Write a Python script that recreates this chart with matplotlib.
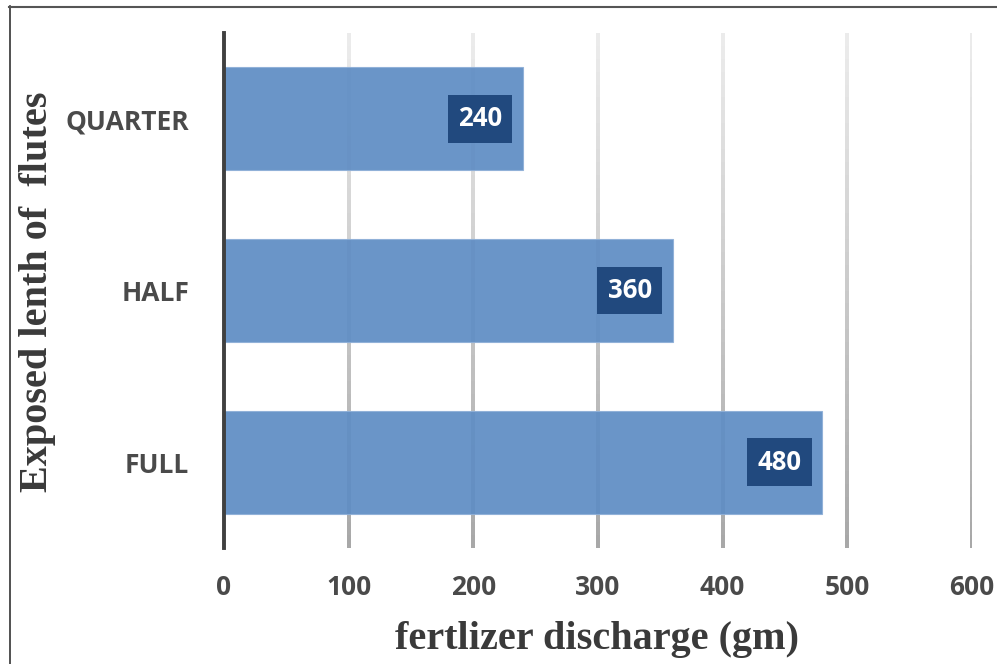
import matplotlib
matplotlib.use("Agg")
import matplotlib.pyplot as plt
import numpy as np
from matplotlib.collections import LineCollection
from matplotlib.lines import Line2D

categories = ["FULL", "HALF", "QUARTER"]
values = [480, 360, 240]
xticks = [0, 100, 200, 300, 400, 500, 600]
xlabel = "fertlizer discharge (gm)"
ylabel = "Exposed lenth of  flutes"

fig = plt.figure(figsize=(9.97, 6.64), dpi=100)
ax = fig.add_axes([224/997, 1-548/664, (972-224)/997, (548-33)/664])

ax.set_xlim(0, 600)
ax.set_ylim(-0.5, 2.5)

# gradient gridlines
N = 40
segs, cols = [], []
y0, y1 = -0.5, 2.5
ys = np.linspace(y0, y1, N + 1)
for t in xticks[1:]:
    for i in range(N):
        segs.append([(t, ys[i]), (t, ys[i + 1])])
        frac = i / N  # 0 at bottom, 1 at top
        g = 0.66 + (0.93 - 0.66) * frac
        cols.append((g, g, g))
lc = LineCollection(segs, colors=cols, linewidths=1.45, zorder=1, capstyle="butt",
                    antialiaseds=False)
ax.add_collection(lc)

ypos = np.arange(len(categories))
ax.barh(ypos, values, height=0.6, color="#5F8DC4", alpha=0.93,
        edgecolor="#8fb0d8", linewidth=0.8, zorder=2)

for y, v in zip(ypos, values):
    ax.annotate(str(v), xy=(v, y), xytext=(-21, 0), textcoords="offset pixels",
                ha="right", va="center", color="white", fontsize=18.5,
                fontfamily="Open Sans", fontweight="bold", zorder=4,
                bbox=dict(boxstyle="square,pad=0.4", fc="#21497E", ec="none"))

for s in ["top", "right", "bottom"]:
    ax.spines[s].set_visible(False)
ax.spines["left"].set_color("#404040")
ax.spines["left"].set_linewidth(2.8)
ax.spines["left"].set_zorder(5)

ax.set_xticks(xticks)
ax.set_xticklabels([str(t) for t in xticks])
ax.set_yticks(ypos)
ax.set_yticklabels(categories)
ax.tick_params(axis="both", length=0, labelsize=19, labelcolor="#4a4a4a")
ax.tick_params(axis="x", pad=19)
ax.tick_params(axis="y", pad=25)
for lab in ax.get_xticklabels() + ax.get_yticklabels():
    lab.set_fontfamily("Open Sans")
    lab.set_fontweight("bold")

fig.text(597/997, 1-640/664, xlabel, ha="center", va="center",
         fontsize=29, fontfamily="Liberation Serif", fontweight="bold", color="#3a3a3a")
fig.text(38/997, 1-292/664, ylabel, ha="center", va="center", rotation=90,
         fontsize=29, fontfamily="Liberation Serif", fontweight="bold", color="#3a3a3a")

# image frame
fig.add_artist(Line2D([9.5/997, 9.5/997], [0, 1-6/664], transform=fig.transFigure,
                      color="#333333", linewidth=1.2))
fig.add_artist(Line2D([9/997, 1], [1-6.5/664, 1-6.5/664], transform=fig.transFigure,
                      color="#555555", linewidth=1.5))

fig.savefig("out.png", dpi=100)
